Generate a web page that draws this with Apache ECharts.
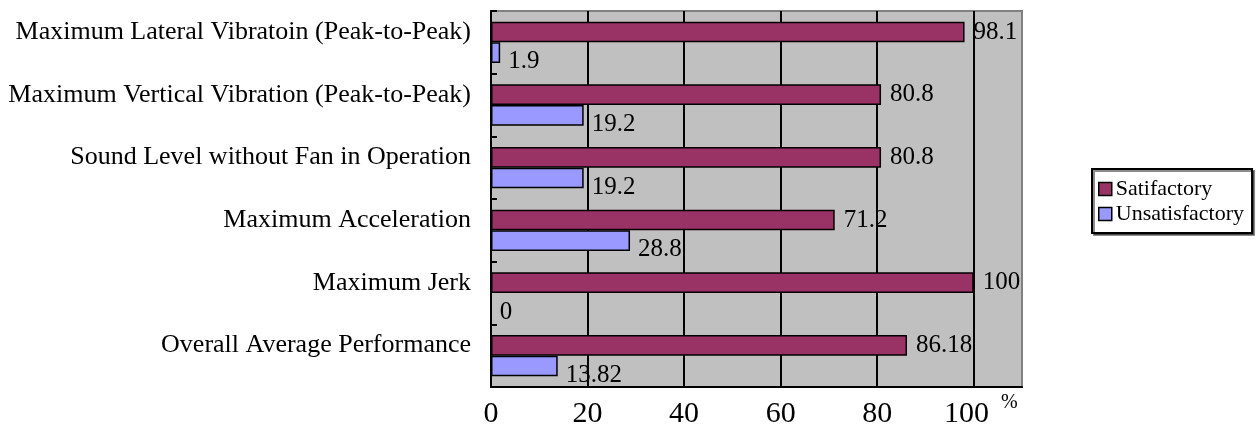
<!DOCTYPE html>
<html>
<head>
<meta charset="utf-8">
<script src="https://cdn.jsdelivr.net/npm/echarts@6/dist/echarts.min.js"></script>
<style>
html,body{margin:0;padding:0;background:#fff;}
#c{width:1258px;height:446px;}
</style>
</head>
<body>
<div id="c"></div>
<script>
var categories = [
  'Maximum Lateral Vibratoin (Peak-to-Peak)',
  'Maximum Vertical Vibration (Peak-to-Peak)',
  'Sound Level without Fan in Operation',
  'Maximum Acceleration',
  'Maximum Jerk',
  'Overall Average Performance'
];
var satisfactory = [98.1, 80.8, 80.8, 71.2, 100, 86.18];
var unsatisfactory = [1.9, 19.2, 19.2, 28.8, 0, 13.82];
var xTicks = [0, 20, 40, 60, 80, 100];

var FONT = '"Liberation Serif", "Times New Roman", serif';
var chart = echarts.init(document.getElementById('c'), null, {renderer: 'canvas'});
chart.setOption({
  animation: false,
  backgroundColor: '#ffffff',
  textStyle: {fontFamily: FONT, color: '#000'},
  grid: {
    left: 491, top: 11, right: 236, bottom: 59,
    show: true, backgroundColor: '#c0c0c0', borderColor: '#808080', borderWidth: 2
  },
  legend: {
    orient: 'vertical',
    left: 1092, top: 169,
    itemWidth: 13, itemHeight: 13, itemGap: 3,
    padding: [9, 8, 8, 6],
    borderColor: '#000', borderWidth: 2,
    shadowColor: 'rgba(0,0,0,0.45)', shadowOffsetX: 2, shadowOffsetY: 2,
    backgroundColor: '#fff',
    textStyle: {fontFamily: FONT, fontSize: 22, color: '#000', padding: [0, 0, 0, -1]},
    icon: 'rect',
    itemStyle: {borderColor: '#000', borderWidth: 1.5},
    data: ['Satifactory', 'Unsatisfactory']
  },
  xAxis: {
    type: 'value', min: 0, max: 110, interval: 20,
    axisLine: {show: true, lineStyle: {color: '#000', width: 2}},
    axisTick: {show: false},
    splitLine: {show: true, lineStyle: {color: '#000', width: 2}},
    axisLabel: {
      margin: 6, fontFamily: FONT, fontSize: 30, color: '#000',
      formatter: function (v) {
        if (xTicks.indexOf(v) < 0) return '';
        return v === 100 ? '{m|' + v + '}{sup|%}' : '{n|' + v + '}';
      },
      rich: {
        n: {fontFamily: FONT, fontSize: 30, color: '#000', padding: [6, 0, 0, 0]},
        m: {fontFamily: FONT, fontSize: 30, color: '#000', padding: [6, 0, 0, 14]},
        sup: {fontFamily: FONT, fontSize: 20, color: '#000', verticalAlign: 'top', padding: [0, 0, 0, 12]}
      }
    }
  },
  yAxis: [{
    type: 'category', inverse: true, data: categories,
    axisLine: {show: true, lineStyle: {color: '#000', width: 2}},
    axisTick: {show: true, inside: true, length: 6, lineStyle: {color: '#000', width: 2}},
    axisLabel: {margin: 20, fontFamily: FONT, fontSize: 26, color: '#000', verticalAlign: 'bottom', lineHeight: 20},
    splitLine: {show: false}
  }, {
    type: 'category', inverse: true, data: categories, position: 'right',
    axisLine: {show: true, lineStyle: {color: '#808080', width: 2}},
    axisTick: {show: false}, axisLabel: {show: false}, splitLine: {show: false}
  }],
  series: [{
    name: 'Satifactory', type: 'bar', data: satisfactory,
    barCategoryGap: '34%', barGap: '0%',
    itemStyle: {color: '#993366', borderColor: '#000', borderWidth: 1.5},
    label: {show: true, position: 'right', distance: 9, fontFamily: FONT, fontSize: 25, color: '#000'}
  }, {
    name: 'Unsatisfactory', type: 'bar', data: unsatisfactory,
    barCategoryGap: '34%', barGap: '0%',
    itemStyle: {color: '#9999ff', borderColor: '#000', borderWidth: 1.5},
    label: {show: true, position: 'right', distance: 8, offset: [0, 9], fontFamily: FONT, fontSize: 25, color: '#000'}
  }]
});
</script>
</body>
</html>
